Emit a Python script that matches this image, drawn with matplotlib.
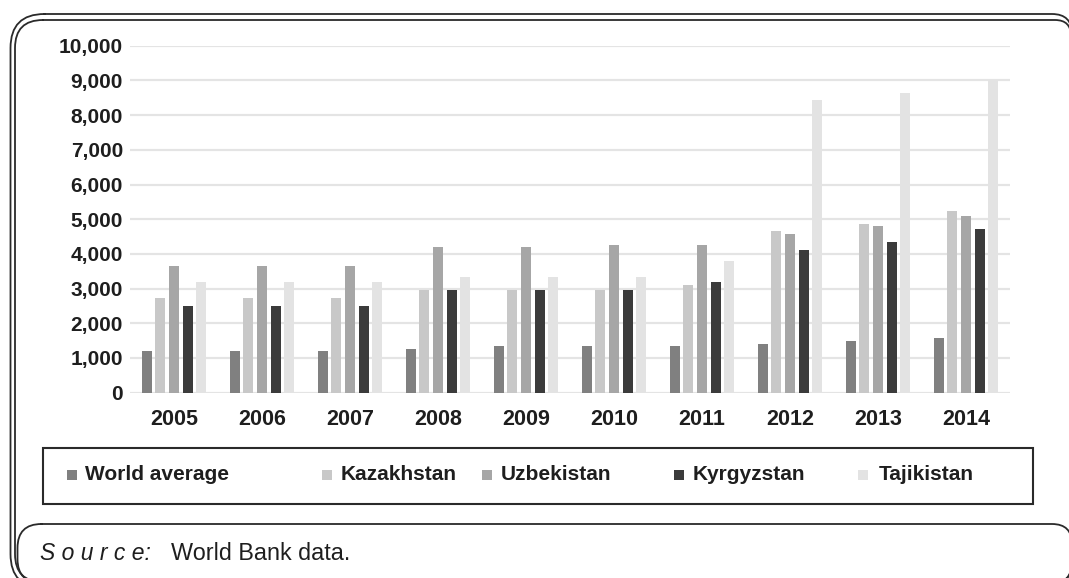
import numpy as np
import matplotlib
matplotlib.use("Agg")
import matplotlib.pyplot as plt
from matplotlib.patches import Rectangle
from matplotlib.lines import Line2D
from matplotlib.path import Path
from matplotlib.transforms import IdentityTransform
from matplotlib.ticker import FuncFormatter

# ── data ──────────────────────────────────────────────────────────
years = ["2005", "2006", "2007", "2008", "2009", "2010", "2011", "2012", "2013", "2014"]
series_names = ["World average", "Kazakhstan", "Uzbekistan", "Kyrgyzstan", "Tajikistan"]
world_average = [1200, 1200, 1200, 1260, 1340, 1340, 1340, 1410, 1490, 1570]
kazakhstan = [2720, 2720, 2720, 2960, 2960, 2960, 3100, 4650, 4870, 5250]
uzbekistan = [3640, 3640, 3640, 4190, 4190, 4260, 4260, 4570, 4800, 5100]
kyrgyzstan = [2500, 2500, 2500, 2960, 2960, 2960, 3190, 4110, 4340, 4720]
tajikistan = [3180, 3180, 3180, 3340, 3340, 3340, 3800, 8430, 8650, 9000]
yticks = [0, 1000, 2000, 3000, 4000, 5000, 6000, 7000, 8000, 9000, 10000]

series = [world_average, kazakhstan, uzbekistan, kyrgyzstan, tajikistan]
colors = ["#808080", "#c8c8c8", "#a6a6a6", "#3b3b3b", "#e3e3e3"]
INK = "#1e1e1e"

W, H = 1069, 578
plt.rcParams["font.family"] = ["Liberation Sans", "DejaVu Sans"]

fig = plt.figure(figsize=(W / 100, H / 100), dpi=100)
ax = fig.add_axes([130 / W, 1 - 392.7 / H, 880 / W, (392.7 - 45.7) / H])

x = np.arange(len(years))
pitch = 0.155
width = 0.114
for i, (vals, c, name) in enumerate(zip(series, colors, series_names)):
    ax.bar(x + (i - 2) * pitch, vals, width=width, color=c, label=name, zorder=3)

ax.set_xlim(-0.5, len(years) - 0.5)
ax.set_ylim(0, 10000)
ax.set_yticks(yticks)
ax.yaxis.set_major_formatter(FuncFormatter(lambda v, p: f"{int(v):,}"))
ax.set_xticks(x)
ax.set_xticklabels(years)
ax.grid(axis="y", color="#e4e4e4", linewidth=1.6, zorder=0)
ax.set_axisbelow(True)
for s in ax.spines.values():
    s.set_visible(False)
ax.tick_params(axis="y", length=0, pad=5, labelsize=15, labelcolor=INK)
ax.tick_params(axis="x", length=0, pad=11.5, labelsize=15.5, labelcolor=INK)
for lab in ax.get_xticklabels() + ax.get_yticklabels():
    lab.set_fontweight("bold")

# ── frames (pixel coordinates, measured from the top-left) ────────
ident = IdentityTransform()


def rbox(x0, y0, x1, y1, rl, rr, lw=1.3):
    # rounded rectangle, separate corner size on left / right side;
    # flattened to a polyline so canvas clipping doesn't mangle the curves
    top, bot = H - y0, H - y1
    verts = [(x0 + rl, top), (x1 - rr, top),
             (x1, top), (x1, top - rr),
             (x1, bot + rr),
             (x1, bot), (x1 - rr, bot),
             (x0 + rl, bot),
             (x0, bot), (x0, bot + rl),
             (x0, top - rl),
             (x0, top), (x0 + rl, top)]
    codes = [Path.MOVETO, Path.LINETO,
             Path.CURVE3, Path.CURVE3,
             Path.LINETO,
             Path.CURVE3, Path.CURVE3,
             Path.LINETO,
             Path.CURVE3, Path.CURVE3,
             Path.LINETO,
             Path.CURVE3, Path.CURVE3]
    poly = Path(verts, codes).to_polygons(closed_only=False)[0]
    fig.add_artist(Line2D(poly[:, 0], poly[:, 1], transform=ident,
                          color="#2a2a2a", linewidth=lw))


rbox(10.5, 14, 1072, 588, 34, 20)
rbox(15, 20, 1071, 582, 28, 16)
rbox(17.5, 524, 1072, 583, 24, 20)

legend_box = Rectangle((43, H - 504), 990, 56, transform=ident, fill=False,
                       edgecolor="#2a2a2a", linewidth=1.5, clip_on=False)
fig.add_artist(legend_box)

# legend entries
marker_x = [67, 322, 482, 674, 858]
text_x = [85, 340.7, 501, 693, 878.7]
ly = 475
for name, c, mx, tx in zip(series_names, colors, marker_x, text_x):
    fig.add_artist(Rectangle((mx, H - ly - 5), 10, 10, transform=ident,
                             facecolor=c, edgecolor="none"))
    fig.text(tx, H - ly, name, transform=ident, ha="left", va="center",
             fontsize=15, fontweight="bold", color=INK)

# source line
fig.text(40, H - 553, "S o u r c e:", transform=ident, ha="left", va="center",
         fontsize=16.5, style="italic", color=INK)
fig.text(170.7, H - 553, "World Bank data.", transform=ident, ha="left",
         va="center", fontsize=16.8, color=INK)

fig.savefig("out.png", dpi=100)
